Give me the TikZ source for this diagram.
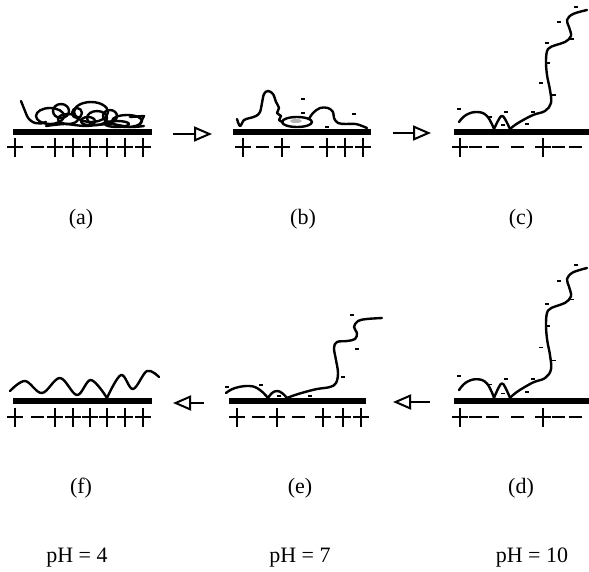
\documentclass[tikz,border=0pt]{standalone}
\usepackage{fontspec}
\setmainfont{Liberation Serif}
\usepackage{tikz}
\usetikzlibrary{arrows.meta}

% surface charges
\newcommand{\possign}[2]{\draw[sign] (#1-8,#2) -- (#1+8,#2) (#1,#2-9.5) -- (#1,#2+9.5);}
\newcommand{\negsign}[2]{\draw[sign] (#1-6.5,#2) -- (#1+6.5,#2);}

\begin{document}
\begin{tikzpicture}[
  x=1pt, y=-1pt,
  surface/.style={line width=6pt},
  sign/.style={line width=2.4pt},
  polymer/.style={
    line width=2.4pt,
    line join=round,
    line cap=round},
  charge/.style={line width=1.6pt},
  stage/.style={
    line width=2pt,
    -{Triangle[open, length=18pt, width=15pt]}},
  lbl/.style={
    font=\fontsize{22}{26}\selectfont,
    anchor=base,
    inner sep=0pt},
]
  \useasboundingbox (0,0) rectangle (589,571);

  \def\topbar{132}%
  \def\lowbar{401}%
  \def\topsign{147}%
  \def\lowsign{417}%

  % Substrates
  \foreach \from/\to in {13/152, 233/371, 454/589} {
    \draw[surface] (\from,\topbar) -- (\to,\topbar);
  }
  \foreach \from/\to in {13/152, 229/366, 454/589} {
    \draw[surface] (\from,\lowbar) -- (\to,\lowbar);
  }

  % Charges on the substrates
  \foreach \p in {15,55,73,90,107,125,143} {
    \possign{\p}{\topsign}
    \possign{\p}{\lowsign}
  }
  \negsign{37}{\topsign}
  \negsign{37}{\lowsign}

  \foreach \p in {243,282,327,345,363} {\possign{\p}{\topsign}}
  \foreach \p in {262,307} {\negsign{\p}{\topsign}}
  \foreach \p in {237,277,323,343,361} {\possign{\p}{\lowsign}}
  \foreach \p in {258,298} {\negsign{\p}{\lowsign}}

  \foreach \p in {460,543} {
    \possign{\p}{\topsign}
    \possign{\p}{\lowsign}
  }
  \foreach \p in {475,492,517,558,575} {
    \negsign{\p}{\topsign}
    \negsign{\p}{\lowsign}
  }

  % (a) collapsed coil
  \draw[polymer] (21,101) -- (27,116) .. controls (31,124) and (40,125) .. (46,122);
  \draw[polymer] (50,116) ellipse [x radius=14pt, y radius=8pt];
  \draw[polymer] (61,111) ellipse [x radius=8pt, y radius=7pt];
  \draw[polymer] (68,119) ellipse [x radius=10pt, y radius=5pt];
  \draw[polymer] (77,113) circle [radius=5pt];
  \draw[polymer] (91,112) ellipse [x radius=17pt, y radius=10pt];
  \draw[polymer] (97,118) ellipse [x radius=10pt, y radius=7pt];
  \draw[polymer] (88,121) ellipse [x radius=7pt, y radius=4pt];
  \draw[polymer] (110,116) ellipse [x radius=7pt, y radius=6pt];
  \draw[polymer] (127,121) ellipse [x radius=15pt, y radius=6pt];
  \draw[polymer] (117,124) ellipse [x radius=12pt, y radius=3pt];
  \draw[polymer] plot[smooth] coordinates
    {(46,126) (65,124) (85,126) (110,124) (130,127) (144,126)};
  \draw[polymer] (130,117) -- (144,116) -- (140,124);

  % (b) partly released
  \draw[polymer] plot[smooth, tension=0.6] coordinates
    {(237,119) (240,126) (244,120) (250,118) (256,116) (260,112) (262,103)
     (264,94) (268,91) (273,94) (276,102) (279,108) (277,113) (281,116)
     (279,120) (283,122)};
  \draw[polymer] (297,122) ellipse [x radius=15pt, y radius=5pt];
  \fill[gray!60] (296,121) ellipse [x radius=6pt, y radius=2pt];
  \draw[polymer] plot[smooth, tension=0.6] coordinates
    {(309,119) (313,113) (320,108) (328,108) (333,112) (334,118) (338,123)
     (346,124) (356,124) (367,128)};
  \foreach \cx/\cy in {303/99, 303/113, 327/127, 354/114} {
    \draw[charge] (\cx-2,\cy) -- (\cx+2,\cy);
  }

  % stretched chain, used for (c) and (d)
  \def\longchain{%
    \draw[polymer] plot[smooth, tension=0.7] coordinates
      {(459,122) (466,115) (477,112) (487,116) (494,129)};
    \draw[polymer] plot[smooth, tension=0.7] coordinates
      {(494,129) (499,119) (502,116) (505,119) (510,129)};
    \draw[polymer] plot[smooth, tension=0.6] coordinates
      {(510,129) (518,123) (533,115) (545,111) (551,103) (550,90) (547,75)
       (546,60) (548,49) (556,45) (565,42) (571,36) (569,27) (567,20)
       (573,14) (587,10)};
    \foreach \cx/\cy in {459/109, 490/117, 506/112, 503/125, 527/124,
                         533/112, 554/95, 541/83, 548/63, 547/43, 572/39,
                         559/22, 576/7} {
      \draw[charge] (\cx-2,\cy) -- (\cx+2,\cy);
    }
  }
  \begin{scope}
    \longchain
  \end{scope}
  \begin{scope}[shift={(0,\lowbar)}, yscale=1.09, shift={(0,-\topbar)}]
    \longchain
  \end{scope}

  % (e) chain
  \draw[polymer] plot[smooth, tension=0.7] coordinates
    {(226,393) (235,388) (250,386) (260,390) (268,398)};
  \draw[polymer] plot[smooth, tension=0.7] coordinates
    {(268,398) (272,393) (277,391) (282,393) (287,398)};
  \draw[polymer] plot[smooth, tension=0.6] coordinates
    {(287,398) (295,395) (305,392) (317,389) (330,387) (336,383) (338,373)
     (336,360) (334,348) (337,342) (347,341) (355,339) (357,333) (354,327)
     (358,321) (367,319) (382,318)};
  \foreach \cx/\cy in {227/387, 261/385, 279/396, 310/396, 343/377,
                       357/349, 352/315} {
    \draw[charge] (\cx-2,\cy) -- (\cx+2,\cy);
  }

  % (f) flat adsorbed chain
  \draw[polymer] plot[smooth, tension=0.6] coordinates
    {(10,391) (25,381) (42,393) (60,378) (77,395) (91,380) (107,398)};
  \draw[polymer] plot[smooth, tension=0.6] coordinates
    {(107,398) (121,375) (133,389) (147,371) (159,377)};

  % Steps between the stages
  \coordinate (ab-tail) at (173,134);
  \coordinate (ab-head) at (212,134);
  \coordinate (bc-tail) at (393,133);
  \coordinate (bc-head) at (431,133);
  \coordinate (de-tail) at (430,402);
  \coordinate (de-head) at (393,402);
  \coordinate (ef-tail) at (204,403);
  \coordinate (ef-head) at (173,403);
  \draw[stage] (ab-tail) -- (ab-head);
  \draw[stage] (bc-tail) -- (bc-head);
  \draw[stage] (de-tail) -- (de-head);
  \draw[stage] (ef-tail) -- (ef-head);

  % Labels
  \node[lbl] (lab-a) at (81,224) {(a)};
  \node[lbl] (lab-b) at (303,224) {(b)};
  \node[lbl] (lab-c) at (521,224) {(c)};
  \node[lbl] (lab-f) at (81,493) {(f)};
  \node[lbl] (lab-e) at (300,493) {(e)};
  \node[lbl] (lab-d) at (521,493) {(d)};

  \node[lbl] (ph-low) at (77,562) {pH = 4};
  \node[lbl] (ph-mid) at (300,562) {pH = 7};
  \node[lbl] (ph-high) at (532,562) {pH = 10};

\end{tikzpicture}
\end{document}
